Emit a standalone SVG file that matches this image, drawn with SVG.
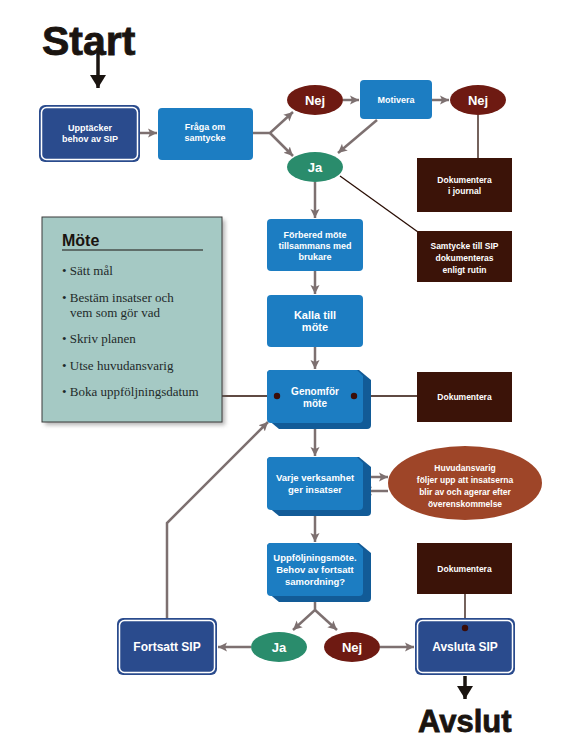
<svg xmlns="http://www.w3.org/2000/svg" width="568" height="750" viewBox="0 0 568 750">
<style>
.t{fill:#fff;font-family:"Liberation Sans",Arial,sans-serif;font-weight:bold;text-anchor:middle}
.navy{fill:#2a4b8d}
.navyIn{fill:none;stroke:#fff;stroke-width:1.5}
.blue{fill:#1c7dc2}
.shade{fill:#125b97}
.brown{fill:#3b1308}
.nej{fill:#6e1a12}
.ja{fill:#2a8c6c}
.g{stroke:#7d7070;stroke-width:2.5;fill:none}
.d{stroke:#2a0e05;stroke-width:1.3;fill:none}
.s{fill:#1f2a2a;font-family:"Liberation Serif","Times New Roman",serif;font-size:13px}
.big{fill:#1a1410;stroke:#1a1410;stroke-width:0.8;font-family:"Liberation Sans",Arial,sans-serif;font-weight:bold}
</style>
<defs>
<marker id="ah" markerUnits="userSpaceOnUse" markerWidth="10" markerHeight="10" refX="9" refY="5" orient="auto">
<path d="M0,0.5 L9,5 L0,9.5 L2,5 Z" fill="#7d7070"/>
</marker>
<marker id="bh" markerUnits="userSpaceOnUse" markerWidth="14" markerHeight="16" refX="13" refY="8" orient="auto">
<path d="M0,0 L13,8 L0,16 Z" fill="#1a1410"/>
</marker>
<path id="ext" d="M4,0 H92 L104,10 V55 Q104,59 100,59 H12 L0,49 V4 Q0,0 4,0 Z"/>
<path id="face" d="M4,0 H90 L96,6 V49 Q96,53 92,53 H4 Q0,53 0,49 V4 Q0,0 4,0 Z"/>
<filter id="sh" x="-10%" y="-10%" width="130%" height="130%"><feGaussianBlur stdDeviation="2"/></filter>
</defs>
<rect width="568" height="750" fill="#fff"/>

<!-- titles -->
<text class="big" x="42" y="55" font-size="41">Start</text>
<text class="big" x="418" y="732" font-size="31">Avslut</text>

<!-- connectors -->
<g id="connectors">
<line x1="98" y1="48" x2="98" y2="88" stroke="#1a1410" stroke-width="3.5" marker-end="url(#bh)"/>
<line x1="465" y1="676" x2="465" y2="699" stroke="#1a1410" stroke-width="3.5" marker-end="url(#bh)"/>
<line class="g" x1="140" y1="133" x2="157" y2="133" marker-end="url(#ah)"/>
<polyline class="g" points="253,133 270,133 293,112" marker-end="url(#ah)"/>
<line class="g" x1="270" y1="133" x2="293" y2="156" marker-end="url(#ah)"/>
<line class="g" x1="343" y1="100" x2="359" y2="100" marker-end="url(#ah)"/>
<line class="g" x1="432" y1="100" x2="449" y2="100" marker-end="url(#ah)"/>
<line class="g" x1="377" y1="120" x2="338" y2="153" marker-end="url(#ah)"/>
<line class="g" x1="315" y1="182" x2="315" y2="218" marker-end="url(#ah)"/>
<line class="g" x1="315" y1="271" x2="315" y2="294" marker-end="url(#ah)"/>
<line class="g" x1="315" y1="347" x2="315" y2="369" marker-end="url(#ah)"/>
<line class="g" x1="315" y1="429" x2="315" y2="456" marker-end="url(#ah)"/>
<line class="g" x1="315" y1="516" x2="315" y2="542" marker-end="url(#ah)"/>
<line class="g" x1="363" y1="477" x2="388" y2="477" marker-end="url(#ah)"/>
<line class="g" x1="388" y1="491" x2="363" y2="491" marker-end="url(#ah)"/>
<polyline class="g" points="315,602 315,610 293,630" marker-end="url(#ah)"/>
<line class="g" x1="315" y1="610" x2="337" y2="630" marker-end="url(#ah)"/>
<line class="g" x1="251" y1="647" x2="218" y2="647" marker-end="url(#ah)"/>
<line class="g" x1="380" y1="647" x2="414" y2="647" marker-end="url(#ah)"/>
<polyline class="g" points="167,618 167,523 268,422" marker-end="url(#ah)"/>
<line class="d" x1="478" y1="115" x2="478" y2="158"/>
<line class="d" x1="340" y1="176" x2="418" y2="232"/>
<line class="d" x1="222" y1="396" x2="277" y2="396"/>
<line class="d" x1="354" y1="396" x2="417" y2="396"/>
<line class="d" x1="465" y1="594" x2="465" y2="628"/>
</g>

<!-- Möte box -->
<g id="mote">
<rect x="45" y="220" width="180" height="205" fill="#666" opacity="0.5" filter="url(#sh)"/>
<rect x="42" y="217" width="180" height="205" fill="#a5c9c4" stroke="#3a3a3a" stroke-width="1"/>
<text x="62" y="246" font-family="'Liberation Sans',Arial,sans-serif" font-weight="bold" font-size="16" fill="#1a1410">Möte</text>
<line x1="62" y1="250" x2="203" y2="250" stroke="#1a1410" stroke-width="1.2"/>
<text class="s" x="62" y="275">• Sätt mål</text>
<text class="s" x="62" y="302">• Bestäm insatser och</text>
<text class="s" x="70" y="317">vem som gör vad</text>
<text class="s" x="62" y="343">• Skriv planen</text>
<text class="s" x="62" y="370">• Utse huvudansvarig</text>
<text class="s" x="62" y="396">• Boka uppföljningsdatum</text>
</g>

<g id="upptacker">
<rect class="navy" x="39" y="105" width="101" height="57" rx="6"/>
<rect class="navyIn" x="41.5" y="107.5" width="96" height="52" rx="5"/>
<text class="t" x="90" y="131" font-size="9">Upptäcker</text>
<text class="t" x="90" y="142" font-size="9">behov av SIP</text>
</g>

<g id="fraga">
<rect class="blue" x="158" y="108" width="95" height="52" rx="4"/>
<text class="t" x="205" y="130" font-size="9">Fråga om</text>
<text class="t" x="205" y="141" font-size="9">samtycke</text>
</g>

<g id="nej1">
<ellipse class="nej" cx="315" cy="100" rx="28" ry="15"/>
<text class="t" x="315" y="105" font-size="13">Nej</text>
</g>

<g id="motivera">
<rect class="blue" x="360" y="80" width="72" height="39" rx="4"/>
<text class="t" x="396" y="103" font-size="9">Motivera</text>
</g>

<g id="nej2">
<ellipse class="nej" cx="478" cy="100" rx="28" ry="15"/>
<text class="t" x="478" y="105" font-size="13">Nej</text>
</g>

<g id="ja1">
<ellipse class="ja" cx="315" cy="167" rx="28" ry="15"/>
<text class="t" x="315" y="172" font-size="13">Ja</text>
</g>

<g id="dok-journal">
<rect class="brown" x="417" y="158" width="95" height="54"/>
<text class="t" x="464.5" y="183" font-size="8.5">Dokumentera</text>
<text class="t" x="464.5" y="194" font-size="8.5">i journal</text>
</g>

<g id="samtycke">
<rect class="brown" x="417" y="231" width="95" height="51"/>
<text class="t" x="464.5" y="249" font-size="8.5">Samtycke till SIP</text>
<text class="t" x="464.5" y="261" font-size="8.5">dokumenteras</text>
<text class="t" x="464.5" y="273" font-size="8.5">enligt rutin</text>
</g>

<g id="forbered">
<rect class="blue" x="267" y="219" width="96" height="52" rx="4"/>
<text class="t" x="315" y="238" font-size="9">Förbered möte</text>
<text class="t" x="315" y="249" font-size="9">tillsammans med</text>
<text class="t" x="315" y="260" font-size="9">brukare</text>
</g>

<g id="kalla">
<rect class="blue" x="267" y="295" width="96" height="52" rx="4"/>
<text class="t" x="315" y="319" font-size="11">Kalla till</text>
<text class="t" x="315" y="331" font-size="11">möte</text>
</g>

<g id="genomfor">
<use href="#ext" x="267" y="370" class="shade"/>
<use href="#face" x="267" y="370" class="blue"/>
<text class="t" x="315" y="395" font-size="10">Genomför</text>
<text class="t" x="315" y="407" font-size="10">möte</text>
<circle cx="277" cy="396" r="3.2" fill="#3b0d08"/>
<circle cx="354" cy="396" r="3.2" fill="#3b0d08"/>
</g>

<g id="dok-mote">
<rect class="brown" x="417" y="372" width="95" height="50"/>
<text class="t" x="464.5" y="400" font-size="8.5">Dokumentera</text>
</g>

<g id="varje">
<use href="#ext" x="267" y="457" class="shade"/>
<use href="#face" x="267" y="457" class="blue"/>
<text class="t" x="315" y="481" font-size="9.5">Varje verksamhet</text>
<text class="t" x="315" y="493" font-size="9.5">ger insatser</text>
</g>

<g id="huvudansvarig">
<ellipse cx="465" cy="483" rx="77" ry="37" fill="#9e4528"/>
<text class="t" x="465" y="471" font-size="8.5">Huvudansvarig</text>
<text class="t" x="465" y="483" font-size="8.5">följer upp att insatserna</text>
<text class="t" x="465" y="495" font-size="8.5">blir av och agerar efter</text>
<text class="t" x="465" y="507" font-size="8.5">överenskommelse</text>
</g>

<g id="uppfoljning">
<use href="#ext" x="267" y="543" class="shade"/>
<use href="#face" x="267" y="543" class="blue"/>
<text class="t" x="315" y="561" font-size="9.5">Uppföljningsmöte.</text>
<text class="t" x="315" y="573" font-size="9.5">Behov av fortsatt</text>
<text class="t" x="315" y="585" font-size="9.5">samordning?</text>
</g>

<g id="dok-avsluta">
<rect class="brown" x="417" y="543" width="95" height="51"/>
<text class="t" x="464.5" y="572" font-size="8.5">Dokumentera</text>
</g>

<g id="ja2">
<ellipse class="ja" cx="279" cy="647" rx="28" ry="15"/>
<text class="t" x="279" y="652" font-size="13">Ja</text>
</g>

<g id="nej3">
<ellipse class="nej" cx="352" cy="647" rx="28" ry="15"/>
<text class="t" x="352" y="652" font-size="13">Nej</text>
</g>

<g id="fortsatt">
<rect class="navy" x="117" y="618" width="100" height="57" rx="6"/>
<rect class="navyIn" x="119.5" y="620.5" width="95" height="52" rx="5"/>
<text class="t" x="167" y="651" font-size="12">Fortsatt SIP</text>
</g>

<g id="avsluta">
<rect class="navy" x="415" y="618" width="100" height="57" rx="6"/>
<rect class="navyIn" x="417.5" y="620.5" width="95" height="52" rx="5"/>
<text class="t" x="465" y="651" font-size="12">Avsluta SIP</text>
<circle cx="465" cy="628" r="3.2" fill="#3b0d08"/>
</g>
</svg>
